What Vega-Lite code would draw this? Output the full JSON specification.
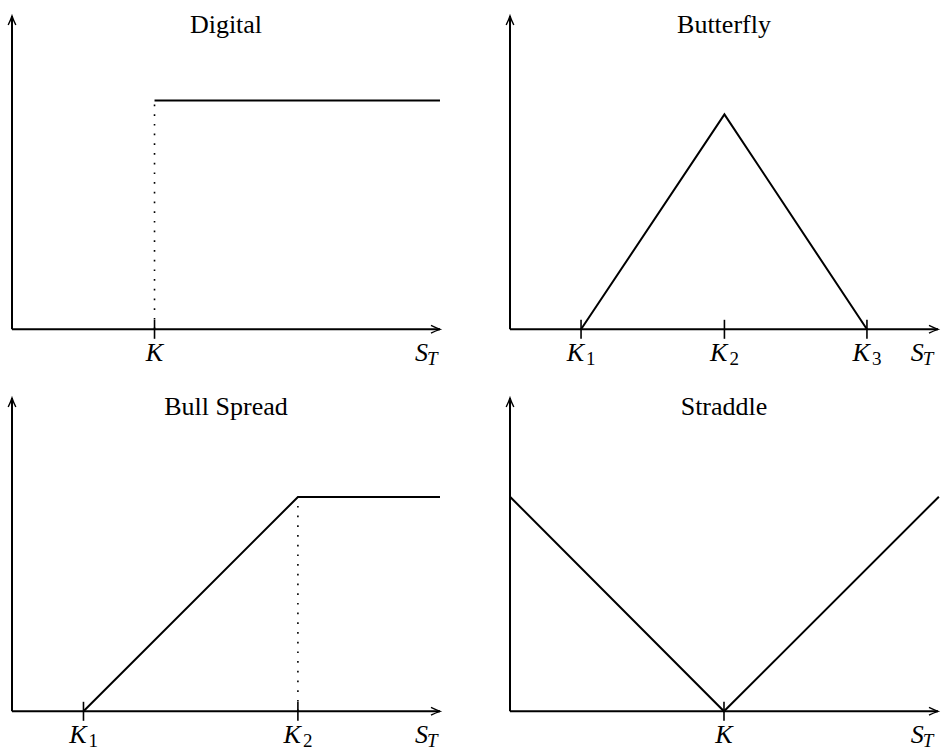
{
  "$schema": "https://vega.github.io/schema/vega-lite/v6.json",
  "padding": 0,
  "background": "white",
  "config": {"view": {"stroke": null}},
  "data": {"values": [
    {"panel": "Digital", "kind": "axis", "x": 0, "y": 0, "x2": 10, "y2": 0},
    {"panel": "Digital", "kind": "axis", "x": 0, "y": 0, "x2": 0, "y2": 10},
    {"panel": "Digital", "kind": "xarrow", "x": 10, "y": 0},
    {"panel": "Digital", "kind": "yarrow", "x": 0, "y": 10},
    {"panel": "Digital", "kind": "payoff", "x": 3.33, "y": 7.30},
    {"panel": "Digital", "kind": "payoff", "x": 10, "y": 7.30},
    {"panel": "Digital", "kind": "tick", "x": 3.33, "y": 0},
    {"panel": "Digital", "kind": "dot", "x": 3.33, "y": 0, "y2": 7.30},
    {"panel": "Digital", "kind": "label", "x": 3.33, "label": "K", "sub": ""},
    {"panel": "Digital", "kind": "label", "x": 9.65, "label": "S", "sub": "T"},
    {"panel": "Digital", "kind": "title", "x": 5, "label": "Digital"},

    {"panel": "Butterfly", "kind": "axis", "x": 0, "y": 0, "x2": 10, "y2": 0},
    {"panel": "Butterfly", "kind": "axis", "x": 0, "y": 0, "x2": 0, "y2": 10},
    {"panel": "Butterfly", "kind": "xarrow", "x": 10, "y": 0},
    {"panel": "Butterfly", "kind": "yarrow", "x": 0, "y": 10},
    {"panel": "Butterfly", "kind": "payoff", "x": 1.66, "y": 0},
    {"panel": "Butterfly", "kind": "payoff", "x": 5.01, "y": 6.86},
    {"panel": "Butterfly", "kind": "payoff", "x": 8.34, "y": 0},
    {"panel": "Butterfly", "kind": "tick", "x": 1.66, "y": 0},
    {"panel": "Butterfly", "kind": "tick", "x": 5.01, "y": 0},
    {"panel": "Butterfly", "kind": "tick", "x": 8.34, "y": 0},
    {"panel": "Butterfly", "kind": "label", "x": 1.66, "label": "K", "sub": "1"},
    {"panel": "Butterfly", "kind": "label", "x": 5.01, "label": "K", "sub": "2"},
    {"panel": "Butterfly", "kind": "label", "x": 8.34, "label": "K", "sub": "3"},
    {"panel": "Butterfly", "kind": "label", "x": 9.6, "label": "S", "sub": "T"},
    {"panel": "Butterfly", "kind": "title", "x": 5, "label": "Butterfly"},

    {"panel": "Bull Spread", "kind": "axis", "x": 0, "y": 0, "x2": 10, "y2": 0},
    {"panel": "Bull Spread", "kind": "axis", "x": 0, "y": 0, "x2": 0, "y2": 10},
    {"panel": "Bull Spread", "kind": "xarrow", "x": 10, "y": 0},
    {"panel": "Bull Spread", "kind": "yarrow", "x": 0, "y": 10},
    {"panel": "Bull Spread", "kind": "payoff", "x": 1.67, "y": 0},
    {"panel": "Bull Spread", "kind": "payoff", "x": 6.68, "y": 6.84},
    {"panel": "Bull Spread", "kind": "payoff", "x": 10, "y": 6.84},
    {"panel": "Bull Spread", "kind": "tick", "x": 1.67, "y": 0},
    {"panel": "Bull Spread", "kind": "tick", "x": 6.68, "y": 0},
    {"panel": "Bull Spread", "kind": "dot", "x": 6.68, "y": 0, "y2": 6.84},
    {"panel": "Bull Spread", "kind": "label", "x": 1.67, "label": "K", "sub": "1"},
    {"panel": "Bull Spread", "kind": "label", "x": 6.68, "label": "K", "sub": "2"},
    {"panel": "Bull Spread", "kind": "label", "x": 9.65, "label": "S", "sub": "T"},
    {"panel": "Bull Spread", "kind": "title", "x": 5, "label": "Bull Spread"},

    {"panel": "Straddle", "kind": "axis", "x": 0, "y": 0, "x2": 10, "y2": 0},
    {"panel": "Straddle", "kind": "axis", "x": 0, "y": 0, "x2": 0, "y2": 10},
    {"panel": "Straddle", "kind": "xarrow", "x": 10, "y": 0},
    {"panel": "Straddle", "kind": "yarrow", "x": 0, "y": 10},
    {"panel": "Straddle", "kind": "payoff", "x": 0, "y": 6.85},
    {"panel": "Straddle", "kind": "payoff", "x": 5.0, "y": 0},
    {"panel": "Straddle", "kind": "payoff", "x": 10.02, "y": 6.85},
    {"panel": "Straddle", "kind": "tick", "x": 5.0, "y": 0},
    {"panel": "Straddle", "kind": "label", "x": 5.0, "label": "K", "sub": ""},
    {"panel": "Straddle", "kind": "label", "x": 9.6, "label": "S", "sub": "T"},
    {"panel": "Straddle", "kind": "title", "x": 5, "label": "Straddle"}
  ]},
  "spacing": 12,
  "vconcat": [
    {
      "spacing": 53,
      "hconcat": [
        {"transform": [{"filter": "datum.panel == 'Digital'"}], "width": 445, "height": 370,
         "layer": [
          {"transform": [{"filter": "datum.kind == 'axis'"}], "mark": {"type": "rule", "color": "black", "strokeWidth": 2},
           "encoding": {"x": {"field": "x", "type": "quantitative", "scale": {"domain": [-0.2804, 10.117], "nice": false, "zero": false}, "axis": null}, "y": {"field": "y", "type": "quantitative", "scale": {"domain": [-1.299, 10.511], "nice": false, "zero": false}, "axis": null}, "x2": {"field": "x2"}, "y2": {"field": "y2"}}},
          {"transform": [{"filter": "datum.kind == 'dot'"}], "mark": {"type": "rule", "color": "black", "strokeWidth": 1.6, "strokeDash": [1.7, 8]},
           "encoding": {"x": {"field": "x", "type": "quantitative"}, "y": {"field": "y", "type": "quantitative"}, "y2": {"field": "y2"}}},
          {"transform": [{"filter": "datum.kind == 'tick'"}], "mark": {"type": "tick", "orient": "vertical", "color": "black", "size": 19, "thickness": 1.6, "opacity": 1},
           "encoding": {"x": {"field": "x", "type": "quantitative"}, "y": {"field": "y", "type": "quantitative"}}},
          {"transform": [{"filter": "datum.kind == 'payoff'"}], "mark": {"type": "line", "color": "black", "strokeWidth": 2, "strokeJoin": "miter"},
           "encoding": {"x": {"field": "x", "type": "quantitative"}, "y": {"field": "y", "type": "quantitative"}}},
          {"transform": [{"filter": "datum.kind == 'xarrow'"}], "mark": {"type": "point", "shape": "M -2 -0.85 Q -0.9 -0.3 0 0 Q -0.9 0.3 -2 0.85", "size": 81, "filled": false, "color": "black", "strokeWidth": 1.4, "opacity": 1, "angle": 0},
           "encoding": {"x": {"field": "x", "type": "quantitative"}, "y": {"field": "y", "type": "quantitative"}}},
          {"transform": [{"filter": "datum.kind == 'yarrow'"}], "mark": {"type": "point", "shape": "M -2 -0.85 Q -0.9 -0.3 0 0 Q -0.9 0.3 -2 0.85", "size": 81, "filled": false, "color": "black", "strokeWidth": 1.4, "opacity": 1, "angle": 270},
           "encoding": {"x": {"field": "x", "type": "quantitative"}, "y": {"field": "y", "type": "quantitative"}}},
          {"transform": [{"filter": "datum.kind == 'title'"}], "mark": {"type": "text", "font": "Liberation Serif", "fontSize": 26, "color": "black", "align": "center", "baseline": "alphabetic"},
           "encoding": {"x": {"field": "x", "type": "quantitative"}, "y": {"datum": 9.45, "type": "quantitative"}, "text": {"field": "label", "type": "nominal"}}},
          {"transform": [{"filter": "datum.kind == 'label' && datum.sub == ''"}], "mark": {"type": "text", "font": "Liberation Serif", "fontStyle": "italic", "fontSize": 26, "color": "black", "align": "center", "baseline": "alphabetic"},
           "encoding": {"x": {"field": "x", "type": "quantitative"}, "y": {"datum": -1.0, "type": "quantitative"}, "text": {"field": "label", "type": "nominal"}}},
          {"transform": [{"filter": "datum.kind == 'label' && datum.sub != ''"}], "mark": {"type": "text", "font": "Liberation Serif", "fontStyle": "italic", "fontSize": 26, "color": "black", "align": "right", "baseline": "alphabetic", "dx": 3},
           "encoding": {"x": {"field": "x", "type": "quantitative"}, "y": {"datum": -1.0, "type": "quantitative"}, "text": {"field": "label", "type": "nominal"}}},
          {"transform": [{"filter": "datum.kind == 'label' && datum.sub == 'T'"}], "mark": {"type": "text", "font": "Liberation Serif", "fontStyle": "italic", "fontSize": 19, "color": "black", "align": "left", "baseline": "alphabetic", "dx": 2, "dy": 4.5},
           "encoding": {"x": {"field": "x", "type": "quantitative"}, "y": {"datum": -1.0, "type": "quantitative"}, "text": {"field": "sub", "type": "nominal"}}}
         ]},
        {"transform": [{"filter": "datum.panel == 'Butterfly'"}], "width": 445, "height": 370,
         "layer": [
          {"transform": [{"filter": "datum.kind == 'axis'"}], "mark": {"type": "rule", "color": "black", "strokeWidth": 2},
           "encoding": {"x": {"field": "x", "type": "quantitative", "scale": {"domain": [-0.2804, 10.117], "nice": false, "zero": false}, "axis": null}, "y": {"field": "y", "type": "quantitative", "scale": {"domain": [-1.299, 10.511], "nice": false, "zero": false}, "axis": null}, "x2": {"field": "x2"}, "y2": {"field": "y2"}}},
          {"transform": [{"filter": "datum.kind == 'tick'"}], "mark": {"type": "tick", "orient": "vertical", "color": "black", "size": 19, "thickness": 1.6, "opacity": 1},
           "encoding": {"x": {"field": "x", "type": "quantitative"}, "y": {"field": "y", "type": "quantitative"}}},
          {"transform": [{"filter": "datum.kind == 'payoff'"}], "mark": {"type": "line", "color": "black", "strokeWidth": 2, "strokeJoin": "miter"},
           "encoding": {"x": {"field": "x", "type": "quantitative"}, "y": {"field": "y", "type": "quantitative"}}},
          {"transform": [{"filter": "datum.kind == 'xarrow'"}], "mark": {"type": "point", "shape": "M -2 -0.85 Q -0.9 -0.3 0 0 Q -0.9 0.3 -2 0.85", "size": 81, "filled": false, "color": "black", "strokeWidth": 1.4, "opacity": 1, "angle": 0},
           "encoding": {"x": {"field": "x", "type": "quantitative"}, "y": {"field": "y", "type": "quantitative"}}},
          {"transform": [{"filter": "datum.kind == 'yarrow'"}], "mark": {"type": "point", "shape": "M -2 -0.85 Q -0.9 -0.3 0 0 Q -0.9 0.3 -2 0.85", "size": 81, "filled": false, "color": "black", "strokeWidth": 1.4, "opacity": 1, "angle": 270},
           "encoding": {"x": {"field": "x", "type": "quantitative"}, "y": {"field": "y", "type": "quantitative"}}},
          {"transform": [{"filter": "datum.kind == 'title'"}], "mark": {"type": "text", "font": "Liberation Serif", "fontSize": 26, "color": "black", "align": "center", "baseline": "alphabetic"},
           "encoding": {"x": {"field": "x", "type": "quantitative"}, "y": {"datum": 9.45, "type": "quantitative"}, "text": {"field": "label", "type": "nominal"}}},
          {"transform": [{"filter": "datum.kind == 'label' && datum.sub != ''"}], "mark": {"type": "text", "font": "Liberation Serif", "fontStyle": "italic", "fontSize": 26, "color": "black", "align": "right", "baseline": "alphabetic", "dx": 3},
           "encoding": {"x": {"field": "x", "type": "quantitative"}, "y": {"datum": -1.0, "type": "quantitative"}, "text": {"field": "label", "type": "nominal"}}},
          {"transform": [{"filter": "datum.kind == 'label' && datum.sub != '' && datum.sub != 'T'"}], "mark": {"type": "text", "font": "Liberation Serif", "fontSize": 19, "color": "black", "align": "left", "baseline": "alphabetic", "dx": 5, "dy": 4},
           "encoding": {"x": {"field": "x", "type": "quantitative"}, "y": {"datum": -1.0, "type": "quantitative"}, "text": {"field": "sub", "type": "nominal"}}},
          {"transform": [{"filter": "datum.kind == 'label' && datum.sub == 'T'"}], "mark": {"type": "text", "font": "Liberation Serif", "fontStyle": "italic", "fontSize": 19, "color": "black", "align": "left", "baseline": "alphabetic", "dx": 2, "dy": 4.5},
           "encoding": {"x": {"field": "x", "type": "quantitative"}, "y": {"datum": -1.0, "type": "quantitative"}, "text": {"field": "sub", "type": "nominal"}}}
         ]}
      ]
    },
    {
      "spacing": 53,
      "hconcat": [
        {"transform": [{"filter": "datum.panel == 'Bull Spread'"}], "width": 445, "height": 370,
         "layer": [
          {"transform": [{"filter": "datum.kind == 'axis'"}], "mark": {"type": "rule", "color": "black", "strokeWidth": 2},
           "encoding": {"x": {"field": "x", "type": "quantitative", "scale": {"domain": [-0.2804, 10.117], "nice": false, "zero": false}, "axis": null}, "y": {"field": "y", "type": "quantitative", "scale": {"domain": [-1.299, 10.511], "nice": false, "zero": false}, "axis": null}, "x2": {"field": "x2"}, "y2": {"field": "y2"}}},
          {"transform": [{"filter": "datum.kind == 'dot'"}], "mark": {"type": "rule", "color": "black", "strokeWidth": 1.6, "strokeDash": [1.7, 8]},
           "encoding": {"x": {"field": "x", "type": "quantitative"}, "y": {"field": "y", "type": "quantitative"}, "y2": {"field": "y2"}}},
          {"transform": [{"filter": "datum.kind == 'tick'"}], "mark": {"type": "tick", "orient": "vertical", "color": "black", "size": 19, "thickness": 1.6, "opacity": 1},
           "encoding": {"x": {"field": "x", "type": "quantitative"}, "y": {"field": "y", "type": "quantitative"}}},
          {"transform": [{"filter": "datum.kind == 'payoff'"}], "mark": {"type": "line", "color": "black", "strokeWidth": 2, "strokeJoin": "miter"},
           "encoding": {"x": {"field": "x", "type": "quantitative"}, "y": {"field": "y", "type": "quantitative"}}},
          {"transform": [{"filter": "datum.kind == 'xarrow'"}], "mark": {"type": "point", "shape": "M -2 -0.85 Q -0.9 -0.3 0 0 Q -0.9 0.3 -2 0.85", "size": 81, "filled": false, "color": "black", "strokeWidth": 1.4, "opacity": 1, "angle": 0},
           "encoding": {"x": {"field": "x", "type": "quantitative"}, "y": {"field": "y", "type": "quantitative"}}},
          {"transform": [{"filter": "datum.kind == 'yarrow'"}], "mark": {"type": "point", "shape": "M -2 -0.85 Q -0.9 -0.3 0 0 Q -0.9 0.3 -2 0.85", "size": 81, "filled": false, "color": "black", "strokeWidth": 1.4, "opacity": 1, "angle": 270},
           "encoding": {"x": {"field": "x", "type": "quantitative"}, "y": {"field": "y", "type": "quantitative"}}},
          {"transform": [{"filter": "datum.kind == 'title'"}], "mark": {"type": "text", "font": "Liberation Serif", "fontSize": 26, "color": "black", "align": "center", "baseline": "alphabetic"},
           "encoding": {"x": {"field": "x", "type": "quantitative"}, "y": {"datum": 9.45, "type": "quantitative"}, "text": {"field": "label", "type": "nominal"}}},
          {"transform": [{"filter": "datum.kind == 'label' && datum.sub != ''"}], "mark": {"type": "text", "font": "Liberation Serif", "fontStyle": "italic", "fontSize": 26, "color": "black", "align": "right", "baseline": "alphabetic", "dx": 3},
           "encoding": {"x": {"field": "x", "type": "quantitative"}, "y": {"datum": -1.0, "type": "quantitative"}, "text": {"field": "label", "type": "nominal"}}},
          {"transform": [{"filter": "datum.kind == 'label' && datum.sub != '' && datum.sub != 'T'"}], "mark": {"type": "text", "font": "Liberation Serif", "fontSize": 19, "color": "black", "align": "left", "baseline": "alphabetic", "dx": 5, "dy": 4},
           "encoding": {"x": {"field": "x", "type": "quantitative"}, "y": {"datum": -1.0, "type": "quantitative"}, "text": {"field": "sub", "type": "nominal"}}},
          {"transform": [{"filter": "datum.kind == 'label' && datum.sub == 'T'"}], "mark": {"type": "text", "font": "Liberation Serif", "fontStyle": "italic", "fontSize": 19, "color": "black", "align": "left", "baseline": "alphabetic", "dx": 2, "dy": 4.5},
           "encoding": {"x": {"field": "x", "type": "quantitative"}, "y": {"datum": -1.0, "type": "quantitative"}, "text": {"field": "sub", "type": "nominal"}}}
         ]},
        {"transform": [{"filter": "datum.panel == 'Straddle'"}], "width": 445, "height": 370,
         "layer": [
          {"transform": [{"filter": "datum.kind == 'axis'"}], "mark": {"type": "rule", "color": "black", "strokeWidth": 2},
           "encoding": {"x": {"field": "x", "type": "quantitative", "scale": {"domain": [-0.2804, 10.117], "nice": false, "zero": false}, "axis": null}, "y": {"field": "y", "type": "quantitative", "scale": {"domain": [-1.299, 10.511], "nice": false, "zero": false}, "axis": null}, "x2": {"field": "x2"}, "y2": {"field": "y2"}}},
          {"transform": [{"filter": "datum.kind == 'tick'"}], "mark": {"type": "tick", "orient": "vertical", "color": "black", "size": 19, "thickness": 1.6, "opacity": 1},
           "encoding": {"x": {"field": "x", "type": "quantitative"}, "y": {"field": "y", "type": "quantitative"}}},
          {"transform": [{"filter": "datum.kind == 'payoff'"}], "mark": {"type": "line", "color": "black", "strokeWidth": 2, "strokeJoin": "miter"},
           "encoding": {"x": {"field": "x", "type": "quantitative"}, "y": {"field": "y", "type": "quantitative"}}},
          {"transform": [{"filter": "datum.kind == 'xarrow'"}], "mark": {"type": "point", "shape": "M -2 -0.85 Q -0.9 -0.3 0 0 Q -0.9 0.3 -2 0.85", "size": 81, "filled": false, "color": "black", "strokeWidth": 1.4, "opacity": 1, "angle": 0},
           "encoding": {"x": {"field": "x", "type": "quantitative"}, "y": {"field": "y", "type": "quantitative"}}},
          {"transform": [{"filter": "datum.kind == 'yarrow'"}], "mark": {"type": "point", "shape": "M -2 -0.85 Q -0.9 -0.3 0 0 Q -0.9 0.3 -2 0.85", "size": 81, "filled": false, "color": "black", "strokeWidth": 1.4, "opacity": 1, "angle": 270},
           "encoding": {"x": {"field": "x", "type": "quantitative"}, "y": {"field": "y", "type": "quantitative"}}},
          {"transform": [{"filter": "datum.kind == 'title'"}], "mark": {"type": "text", "font": "Liberation Serif", "fontSize": 26, "color": "black", "align": "center", "baseline": "alphabetic"},
           "encoding": {"x": {"field": "x", "type": "quantitative"}, "y": {"datum": 9.45, "type": "quantitative"}, "text": {"field": "label", "type": "nominal"}}},
          {"transform": [{"filter": "datum.kind == 'label' && datum.sub == ''"}], "mark": {"type": "text", "font": "Liberation Serif", "fontStyle": "italic", "fontSize": 26, "color": "black", "align": "center", "baseline": "alphabetic"},
           "encoding": {"x": {"field": "x", "type": "quantitative"}, "y": {"datum": -1.0, "type": "quantitative"}, "text": {"field": "label", "type": "nominal"}}},
          {"transform": [{"filter": "datum.kind == 'label' && datum.sub != ''"}], "mark": {"type": "text", "font": "Liberation Serif", "fontStyle": "italic", "fontSize": 26, "color": "black", "align": "right", "baseline": "alphabetic", "dx": 3},
           "encoding": {"x": {"field": "x", "type": "quantitative"}, "y": {"datum": -1.0, "type": "quantitative"}, "text": {"field": "label", "type": "nominal"}}},
          {"transform": [{"filter": "datum.kind == 'label' && datum.sub == 'T'"}], "mark": {"type": "text", "font": "Liberation Serif", "fontStyle": "italic", "fontSize": 19, "color": "black", "align": "left", "baseline": "alphabetic", "dx": 2, "dy": 4.5},
           "encoding": {"x": {"field": "x", "type": "quantitative"}, "y": {"datum": -1.0, "type": "quantitative"}, "text": {"field": "sub", "type": "nominal"}}}
         ]}
      ]
    }
  ]
}
